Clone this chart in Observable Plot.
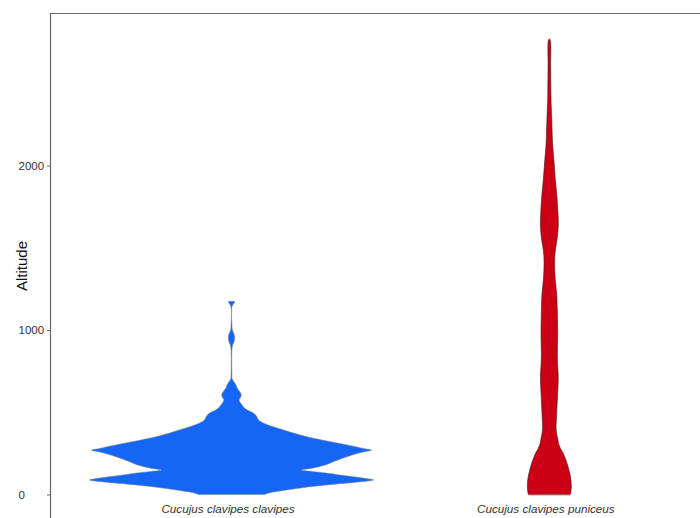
<!DOCTYPE html>
<html>
<head>
<meta charset="utf-8">
<script src="https://cdn.jsdelivr.net/npm/d3@7"></script>
<script src="https://cdn.jsdelivr.net/npm/@observablehq/plot@0.6"></script>
<style>
  html, body { margin: 0; padding: 0; background: #fff; }
</style>
</head>
<body>
<div id="chart"></div>
<script>
const categories = ["Cucujus clavipes clavipes", "Cucujus clavipes puniceus"];
const categoryPositions = [1, 2];
const yTicks = [0, 1000, 2000];

// Violin profiles: altitude and half-width (in category-axis units)
const clavipesAltitude = [0, 10, 27, 45, 58, 72, 82, 88, 95, 108, 120, 130, 140, 149, 160, 179, 195, 210, 240, 258, 270, 280, 301, 331, 352, 373, 395, 412, 435, 453, 475, 495, 510, 525, 540, 560, 575, 595, 612, 630, 650, 670, 690, 705, 720, 880, 910, 935, 955, 975, 1000, 1030, 1140, 1155, 1165, 1172, 1175];
const clavipesHalfWidth = [0.104, 0.120, 0.173, 0.240, 0.300, 0.380, 0.430, 0.447, 0.430, 0.385, 0.335, 0.300, 0.255, 0.220, 0.255, 0.295, 0.315, 0.335, 0.380, 0.415, 0.441, 0.415, 0.365, 0.285, 0.235, 0.195, 0.160, 0.132, 0.100, 0.085, 0.079, 0.069, 0.053, 0.041, 0.035, 0.027, 0.024, 0.030, 0.030, 0.024, 0.017, 0.013, 0.006, 0.002, 0.0015, 0.0015, 0.004, 0.009, 0.010, 0.008, 0.003, 0.0015, 0.0015, 0.005, 0.009, 0.010, 0.0];

const puniceusAltitude = [0, 20, 50, 88, 130, 169, 210, 252, 280, 310, 331, 370, 412, 450, 490, 574, 650, 716, 790, 860, 940, 1020, 1120, 1223, 1300, 1365, 1446, 1500, 1547, 1628, 1680, 1711, 1810, 1912, 2015, 2136, 2258, 2418, 2600, 2760, 2770];
const puniceusHalfWidth = [0.066, 0.068, 0.069, 0.068, 0.064, 0.059, 0.052, 0.043, 0.035, 0.029, 0.027, 0.023, 0.021, 0.022, 0.023, 0.025, 0.027, 0.028, 0.026, 0.025, 0.026, 0.026, 0.025, 0.023, 0.019, 0.017, 0.017, 0.020, 0.024, 0.028, 0.028, 0.027, 0.024, 0.019, 0.015, 0.010, 0.008, 0.005, 0.004, 0.003, 0.0];

const clavipes = clavipesAltitude.map((a, i) => ({alt: a, w: clavipesHalfWidth[i], pos: categoryPositions[0]}));
const puniceus = puniceusAltitude.map((a, i) => ({alt: a, w: puniceusHalfWidth[i], pos: categoryPositions[1]}));

const chart = Plot.plot({
  width: 700,
  height: 518,
  marginLeft: 50,
  marginRight: 0,
  marginTop: 13,
  marginBottom: 0,
  style: {fontFamily: "'Liberation Sans', Arial, Helvetica, sans-serif", fontSize: "11px", background: "#fff"},
  x: {domain: [0.429, 2.474], axis: null},
  y: {domain: [-143, 2927], axis: null},
  marks: [
    Plot.areaX(clavipes, {y: "alt", x1: d => d.pos - d.w, x2: d => d.pos + d.w, fill: "#1666F5", stroke: "#808080", strokeWidth: 0.5, curve: "catmull-rom"}),
    Plot.areaX(puniceus, {y: "alt", x1: d => d.pos - d.w, x2: d => d.pos + d.w, fill: "#CC0014", stroke: "#3a1a1a", strokeWidth: 0.6, curve: "catmull-rom"}),
    Plot.frame({anchor: "top", stroke: "#666", strokeWidth: 1.2}),
    Plot.frame({anchor: "left", stroke: "#666", strokeWidth: 1.2}),
    Plot.axisY({ticks: yTicks, tickSize: 3, tickFormat: () => "", stroke: "#666", label: null}),
    Plot.text(yTicks, {y: d => d, text: d => String(d), frameAnchor: "left", textAnchor: "start", dx: -32, fontSize: 11.5, fill: "#333"}),
    Plot.text(["Altitude"], {frameAnchor: "left", textAnchor: "middle", rotate: -90, dx: -28, fontSize: 15, fill: "#111"}),
    Plot.text(categories, {x: (d, i) => categoryPositions[i], text: d => d, frameAnchor: "bottom", lineAnchor: "bottom", dy: -6, dx: -4, fontStyle: "italic", fontSize: 11.7, fill: "#333"})
  ]
});
document.getElementById("chart").appendChild(chart);
</script>
</body>
</html>
